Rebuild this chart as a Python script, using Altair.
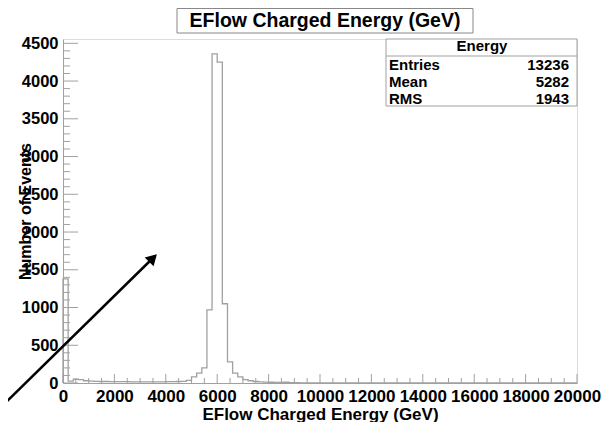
import altair as alt
import pandas as pd

# ---------------- data ----------------
bin_width = 200
counts = [1380, 25, 50, 45, 30, 25, 22, 20, 20, 18,
          18, 17, 17, 16, 16, 15, 15, 15, 16, 16,
          17, 18, 20, 22, 35, 80, 130, 200, 970, 4360,
          4250, 1050, 280, 130, 80, 45, 30, 20, 15, 12,
          10, 8, 8, 10, 6, 3, 1, 1, 0, 0] + [0] * 50

x_labels = [0, 2000, 4000, 6000, 8000, 10000, 12000, 14000, 16000, 18000, 20000]
x_minor = [v for v in range(0, 20001, 500) if v % 2000 != 0]
y_labels = [0, 500, 1000, 1500, 2000, 2500, 3000, 3500, 4000, 4500]
y_minor = [v for v in range(0, 4501, 100) if v % 500 != 0]

title_text = "EFlow Charged Energy (GeV)"
x_title = "EFlow Charged Energy (GeV)"
y_title = "Number of Events"
stats_name = "Energy"
stats_labels = ["Entries", "Mean", "RMS"]
stats_values = ["13236", "5282", "1943"]

# ---------------- build tables ----------------
step_pts = [{"x": 0, "y": 0, "i": 0}]
n = 1
for k, c in enumerate(counts):
    step_pts.append({"x": k * bin_width, "y": c, "i": n}); n += 1
    step_pts.append({"x": (k + 1) * bin_width, "y": c, "i": n}); n += 1
step_pts.append({"x": len(counts) * bin_width, "y": 0, "i": n})
hist = pd.DataFrame(step_pts)

W, H = 514, 344
FONT = "Liberation Sans"
GREY = "#a0a0a0"

xs = alt.Scale(domain=[0, 20000], nice=False, zero=False)
ys = alt.Scale(domain=[0, 4557], nice=False, zero=False)

x_axis = alt.Axis(values=x_labels, format="d", ticks=False, tickSize=0, grid=False,
                  labelFont=FONT, labelFontWeight="bold", labelFontSize=17,
                  labelColor="black", labelPadding=5, labelFlush=False,
                  labelOverlap=False, domainColor=GREY, domainWidth=1,
                  title=x_title, titleFont=FONT, titleFontWeight="bold",
                  titleFontSize=17, titleColor="black", titleX=W / 2, titleY=36,
                  titleBaseline="alphabetic", titleAlign="center")
y_axis = alt.Axis(values=y_labels, format="d", ticks=False, tickSize=0, grid=False,
                  labelFont=FONT, labelFontWeight="bold", labelFontSize=16.5,
                  labelColor="black", labelPadding=5, labelFlush=False,
                  labelOverlap=False, domainColor=GREY, domainWidth=1,
                  title=y_title, titleFont=FONT, titleFontWeight="bold",
                  titleFontSize=16, titleColor="black", titleX=-38, titleY=H / 2,
                  titleAngle=270, titleBaseline="middle", titleAlign="center")

line = alt.Chart(hist).mark_line(interpolate="linear", color=GREY, strokeWidth=1.3).encode(
    x=alt.X("x:Q", scale=xs, axis=x_axis),
    y=alt.Y("y:Q", scale=ys, axis=y_axis),
    order=alt.Order("i:Q"),
)

ymaj = alt.Chart(pd.DataFrame({"y": y_labels})).mark_rule(color=GREY, strokeWidth=1).encode(
    y=alt.Y("y:Q", scale=ys, axis=y_axis), x=alt.value(0), x2=alt.value(15))
ymin = alt.Chart(pd.DataFrame({"y": y_minor})).mark_rule(color=GREY, strokeWidth=1).encode(
    y=alt.Y("y:Q", scale=ys, axis=y_axis), x=alt.value(0), x2=alt.value(7))
xmaj = alt.Chart(pd.DataFrame({"x": x_labels})).mark_rule(color=GREY, strokeWidth=1).encode(
    x=alt.X("x:Q", scale=xs, axis=x_axis), y=alt.value(H), y2=alt.value(H - 9))
xmin = alt.Chart(pd.DataFrame({"x": x_minor})).mark_rule(color=GREY, strokeWidth=1).encode(
    x=alt.X("x:Q", scale=xs, axis=x_axis), y=alt.value(H), y2=alt.value(H - 5))

one = pd.DataFrame({"a": [0]})

# stats box
sbox = alt.Chart(one).mark_rect(fill="white", stroke=GREY, strokeWidth=1).encode(
    x=alt.value(323), x2=alt.value(W), y=alt.value(0), y2=alt.value(67))
ssep = alt.Chart(one).mark_rule(color=GREY, strokeWidth=1).encode(
    x=alt.value(323), x2=alt.value(W), y=alt.value(17))
sname = alt.Chart(one).mark_text(font=FONT, fontWeight="bold", fontSize=15, color="black",
                                 align="center", baseline="middle").encode(
    x=alt.value(419), y=alt.value(7), text=alt.value(stats_name))
stats_layers = []
for k, (lab, val) in enumerate(zip(stats_labels, stats_values)):
    yy = 26 + 17 * k
    stats_layers.append(alt.Chart(one).mark_text(font=FONT, fontWeight="bold", fontSize=15,
                        color="black", align="left", baseline="middle").encode(
        x=alt.value(326), y=alt.value(yy), text=alt.value(lab)))
    stats_layers.append(alt.Chart(one).mark_text(font=FONT, fontWeight="bold", fontSize=15,
                        color="black", align="right", baseline="middle").encode(
        x=alt.value(506), y=alt.value(yy), text=alt.value(val)))

# title box
tbox = alt.Chart(one).mark_rect(fill="white", stroke="#888888", strokeWidth=1).encode(
    x=alt.value(114), x2=alt.value(410), y=alt.value(-30.5), y2=alt.value(-6))
ttext = alt.Chart(one).mark_text(font=FONT, fontWeight="bold", fontSize=19.5, color="black",
                                 align="center", baseline="middle").encode(
    x=alt.value(262), y=alt.value(-18), text=alt.value(title_text))

# arrow annotation
arrow = alt.Chart(one).mark_rule(color="black", strokeWidth=2.5).encode(
    x=alt.value(-63), y=alt.value(369), x2=alt.value(92), y2=alt.value(217))
head = alt.Chart(one).mark_point(shape="triangle-up", filled=True, color="black",
                                 opacity=1, size=160, angle=45).encode(
    x=alt.value(90), y=alt.value(219))

chart = alt.layer(line, ymaj, ymin, xmaj, xmin, sbox, ssep, sname, *stats_layers,
                  tbox, ttext, arrow, head).properties(
    width=W, height=H,
    autosize=alt.AutoSizeParams(type="none"),
    padding={"left": 55, "top": 31, "right": 24, "bottom": 39},
).configure_view(stroke=GREY, strokeWidth=1).configure(background="white")

chart.save("out.html", embed_options={"renderer": "svg", "actions": False})
